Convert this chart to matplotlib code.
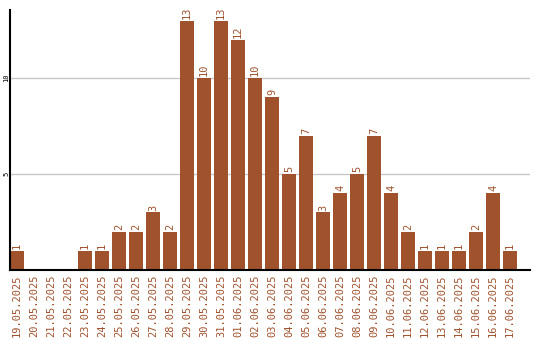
import matplotlib
matplotlib.use('Agg')
import matplotlib.pyplot as plt
import numpy as np

dates = ['19.05.2025', '20.05.2025', '21.05.2025', '22.05.2025', '23.05.2025',
         '24.05.2025', '25.05.2025', '26.05.2025', '27.05.2025', '28.05.2025',
         '29.05.2025', '30.05.2025', '31.05.2025', '01.06.2025', '02.06.2025',
         '03.06.2025', '04.06.2025', '05.06.2025', '06.06.2025', '07.06.2025',
         '08.06.2025', '09.06.2025', '10.06.2025', '11.06.2025', '12.06.2025',
         '13.06.2025', '14.06.2025', '15.06.2025', '16.06.2025', '17.06.2025']
counts = [1, 0, 0, 0, 1, 1, 2, 2, 3, 2, 13, 10, 13, 12, 10, 9, 5, 7, 3, 4,
          5, 7, 4, 2, 1, 1, 1, 2, 4, 1]
yticks = [5, 10]

brown = '#a0522d'
W, H = 540, 340

fig = plt.figure(figsize=(W / 100, H / 100), dpi=100)
ax = fig.add_axes([10 / W, 70 / H, 520 / W, 260 / H])

x = np.arange(len(dates))
ax.bar(x, counts, width=0.82, color=brown, zorder=2)

for xi, c in zip(x, counts):
    if c > 0:
        ax.text(xi, c + 0.1, str(c), rotation=90, ha='center', va='bottom',
                color=brown, family='DejaVu Sans Mono', fontsize=7.5)

ax.set_xlim(-0.41, 30.17)
ax.set_ylim(0, 13.55)
ax.set_yticks(yticks)
ax.set_yticklabels([str(t) for t in yticks], rotation=90, va='center',
                   family='DejaVu Sans Mono', fontsize=5)
ax.set_xticks(x)
ax.set_xticklabels(dates, rotation=90, color=brown,
                   family='DejaVu Sans Mono', fontsize=7.5)
ax.tick_params(axis='x', length=0, pad=3)
ax.tick_params(axis='y', length=0, pad=0.5)
ax.grid(axis='y', color='#c8c8c8', linewidth=1, zorder=0)

for s in ['top', 'right']:
    ax.spines[s].set_visible(False)
ax.spines['left'].set_linewidth(1.5)
ax.spines['bottom'].set_linewidth(1.5)

fig.savefig('out.png', dpi=100)
